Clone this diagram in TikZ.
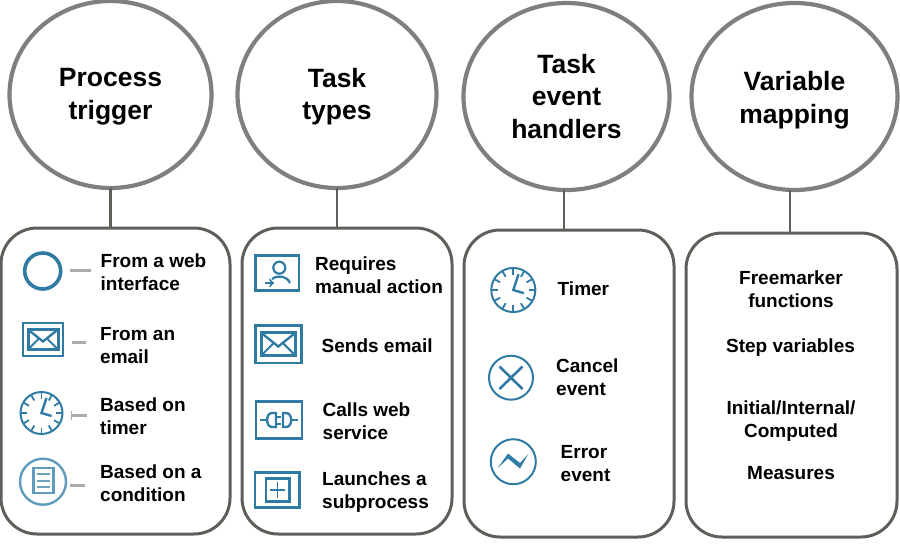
\documentclass[tikz,border=0pt]{standalone}
\usepackage{fontspec}
\setmainfont{Liberation Sans}
\usetikzlibrary{shapes.geometric}
\definecolor{iconblue}{HTML}{2F7BA3}
\definecolor{iconpale}{HTML}{5E9BBD}
\definecolor{ringgrey}{HTML}{7F7F7F}
\definecolor{boxgrey}{HTML}{5F5F5A}
\tikzset{
    ring/.style={ellipse, draw=ringgrey, line width=4.2pt, minimum width=202pt, minimum height=187pt, inner sep=0pt, outer sep=0pt, align=center, font=\fontsize{26.5}{32.5}\selectfont\bfseries},
    panel/.style={rectangle, draw=boxgrey, line width=3pt, rounded corners=36pt, inner sep=0pt, outer sep=0pt},
    stem/.style={draw=boxgrey, line width=2.6pt},
    label/.style={anchor=west, inner sep=0pt, align=left, font=\fontsize{19}{23}\selectfont\bfseries},
    midlabel/.style={label, anchor=center, align=center},
    dashbar/.style={draw=black!33, line width=3pt},
    clockicon/.pic={
        \draw[iconblue, line width=2pt] (0,0) circle (21);
        \foreach \tickangle in {0,30,...,330}
            \draw[iconblue, line width=1.8pt] (\tickangle:14.5) -- (\tickangle:21);
        \draw[iconblue, line width=2.4pt] (5,-15) -- (0,0) -- (10,3);
    },
    mailicon/.pic={
        \draw[iconblue, line width=2.6pt] (-20,-16.5) rectangle (20,16.5);
        \draw[iconblue, line width=3pt] (-15,-10) rectangle (15,10);
        \draw[iconblue, line width=2.4pt] (-15,-10) -- (0,2) -- (15,-10);
        \draw[iconblue, line width=2pt] (-15,10) -- (-4,-1) (15,10) -- (4,-1);
    }
}
\begin{document}
\begin{tikzpicture}[x=1pt, y=-1pt]
                \useasboundingbox (0,0) rectangle (900,547);
                \node[ring] (trigger) at (110.5,94.5) {\rule{0pt}{23pt}Process\\trigger};
                \node[ring, minimum width=199pt] (types) at (337,94.5) {\rule{0pt}{23pt}Task\\types};
                \node[ring, minimum width=206pt] (handlers) at (566.5,96.5) {Task\\event\\handlers};
                \node[ring, minimum width=206pt] (mapping) at (794.5,96.5) {\rule{0pt}{27pt}Variable\\mapping};
                \node[panel, minimum width=229pt, minimum height=306pt] (triggerbox) at (115.5,381) {};
                \node[panel, minimum width=210pt, minimum height=306pt] (typesbox) at (347,381) {};
                \node[panel, minimum width=210pt, minimum height=307pt] (handlersbox) at (569,383.5) {};
                \node[panel, minimum width=211pt, minimum height=304pt] (mappingbox) at (791.5,385) {};
                \draw[stem] (trigger.south) -- (trigger.south |- triggerbox.north);
                \draw[stem] (types.south) -- (types.south |- typesbox.north);
                \draw[stem] ([xshift=-2.5pt]handlers.south) -- ([xshift=-2.5pt]handlers.south |- handlersbox.north);
                \draw[stem] ([xshift=-4.5pt]mapping.south) -- ([xshift=-4.5pt]mapping.south |- mappingbox.north);
                \node[label] (web) at (100.5,272.5) {From a web\\interface};
                \node[label] (email) at (100,346) {From an\\email};
                \node[label] (timer) at (100,416) {Based on\\timer};
                \node[label] (condition) at (100,483) {Based on a\\condition};
                \node[label] (manual) at (315,275) {Requires\\manual action};
                \node[label] (sends) at (321.5,346) {Sends email};
                \node[label] (calls) at (322.5,421) {Calls web\\service};
                \node[label] (launches) at (322,492) {Launches a\\subprocess};
                \node[label] (timerevent) at (557.5,289) {Timer};
                \node[label] (cancel) at (556,377.5) {Cancel\\event};
                \node[label] (error) at (560.5,463.5) {Error\\event};
                \node[midlabel] (freemarker) at (791,289) {Freemarker\\functions};
                \node[midlabel] (step) at (790.5,348) {Step variables};
                \node[midlabel] (initial) at (791,421) {Initial/Internal/\\Computed};
                \node[midlabel] (measures) at (791,473) {Measures};
                \draw[iconblue, line width=3.6pt] (42.7,271) circle (18);
                \draw[dashbar] (70,270.5) -- (91,270.5);
                \pic at (43,339.5) {mailicon};
                \draw[dashbar] (72,342) -- (86,342);
                \pic at (41.5,413) {clockicon};
                \draw[dashbar] (71,415.5) -- (87,415.5);
                \draw[black!33, line width=1pt] (71,411) -- (71,420);
                \draw[iconpale, line width=2.4pt] (43,481.7) circle (23);
                \draw[iconpale, line width=2.6pt] (33.3,468) rectangle (53.3,493);
                \foreach \rowy in {474,480.5,487}
                    \draw[iconblue!70, line width=2pt] (36.5,\rowy) -- (50,\rowy);
                \draw[dashbar] (70,485) -- (85,485);
                \draw[iconblue, line width=2.8pt] (255.7,255.7) rectangle (299,290.7);
                \draw[iconblue, line width=2.2pt] (279.3,267.7) circle (6);
                \draw[iconblue, line width=2.2pt] (272,279) .. controls (278,274.5) and (287,276) .. (290,283);
                \draw[->, iconblue, line width=2pt] (265,283) -- (274,283);
                \pic[scale=1.15] at (278.3,344.2) {mailicon};
                \draw[iconblue, line width=2.8pt] (256,401.7) rectangle (302,438.3);
                \draw[iconblue, line width=2pt] (260,420) -- (267,420);
                \draw[iconblue, line width=2.4pt] (276,413) -- (272,413) .. controls (265.5,413) and (265.5,427) .. (272,427) -- (276,427) -- cycle;
                \draw[iconblue, line width=2pt] (276,416.5) -- (281,416.5) (276,423.5) -- (281,423.5);
                \draw[iconblue, line width=2.4pt] (283,413) -- (286,413) .. controls (293,413) and (293,427) .. (286,427) -- (283,427) -- cycle;
                \draw[iconblue, line width=2pt] (291,420) -- (298,420);
                \draw[iconblue, line width=2.8pt] (255,472.7) rectangle (299.3,507.3);
                \draw[iconblue, line width=2.8pt] (266,478.3) rectangle (289.3,501.7);
                \draw[iconblue, line width=1.2pt] (277.6,482) -- (277.6,498) (270,490) -- (285.3,490);
                \pic[scale=1.05] at (513.3,290) {clockicon};
                \draw[iconblue, line width=2pt] (511,377.7) circle (22);
                \draw[iconblue, line width=2.6pt] (499.5,366.5) -- (522.5,389) (499.5,389) -- (522.5,366.5);
                \draw[iconblue, line width=2pt] (513.3,461.7) circle (22.5);
                \fill[iconblue] (497.7,468) -- (508,453.5) -- (520,463) -- (528.3,454) -- (520,468.5) -- (508,458.5) -- cycle;
            \end{tikzpicture}
\end{document}
